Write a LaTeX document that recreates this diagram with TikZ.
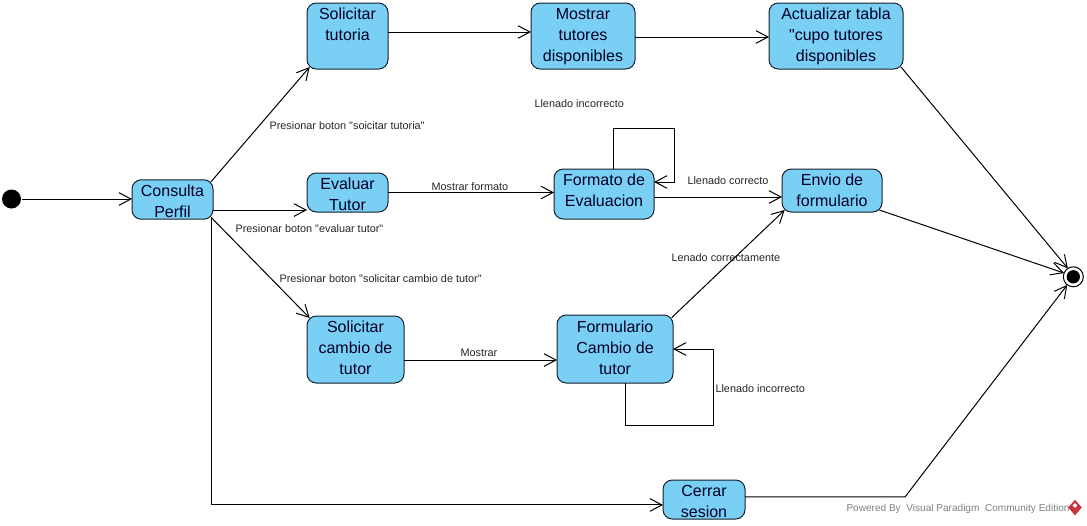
\documentclass[tikz,border=0pt]{standalone}
\usepackage{fontspec}
\setmainfont[Ligatures=TeXOff]{Liberation Sans}
\usetikzlibrary{arrows.meta,shapes.geometric}
\definecolor{statefill}{HTML}{7ACFF5}
\definecolor{stateline}{HTML}{14202C}
\definecolor{logored}{HTML}{C8323C}
\begin{document}
\begin{tikzpicture}
[x=0.75pt,y=-0.75pt,line width=0.75pt,%
  statebox/.style={shape=rectangle,rounded corners=7pt,draw=stateline,fill=statefill,inner sep=0pt,outer sep=0pt,
    align=center,font=\fontsize{12}{15.75}\selectfont,text=black!85!blue},
  twolines/.style={statebox,text height=28.15pt},
  threelines/.style={statebox,text height=43.9pt},
  edgelabel/.style={anchor=west,inner sep=0pt,font=\fontsize{8.15}{10}\selectfont,text=black!85},
  arr/.style={-{Straight Barb[length=9pt,width=9.5pt]}}]
\useasboundingbox (0,0) rectangle (1087,525);
\node[shape=circle,fill=black,inner sep=0pt,minimum size=14.25pt] (start) at (11.5,199) {};
\node[twolines,minimum width=60.75pt,text depth=1.45pt] (perfil) at (172.5,199.5) {Consulta\\Perfil};
\node[twolines,minimum width=60.75pt,text depth=21.35pt] (soltutoria) at (347.5,36) {Solicitar\\tutoria};
\node[threelines,minimum width=78pt,text depth=5.6pt] (mostrar) at (583,36) {Mostrar\\tutores\\disponibles};
\node[threelines,minimum width=100.5pt,text depth=5.6pt] (actualizar) at (836,36) {Actualizar tabla\\"cupo tutores\\disponibles};
\node[twolines,minimum width=60.75pt,text depth=1.1pt] (evaluar) at (347.5,192.5) {Evaluar\\Tutor};
\node[twolines,minimum width=75pt,text depth=9.35pt] (formato) at (604,194) {Formato de\\Evaluacion};
\node[twolines,minimum width=75pt,text depth=4.1pt] (envio) at (832,190.5) {Envio de\\formulario};
\node[threelines,minimum width=72.75pt,text depth=6.35pt] (solcambio) at (355.5,349.5) {Solicitar\\cambio de\\tutor};
\node[threelines,minimum width=87pt,text height=44.65pt,text depth=6.35pt] (formulario) at (615,349) {Formulario\\Cambio de\\tutor};
\node[twolines,minimum width=61.5pt,text depth=1.1pt] (cerrar) at (704,499.5) {Cerrar\\sesion};
\node[shape=circle,draw=black,fill=white,inner sep=0pt,outer sep=0pt,minimum size=15pt] (final) at (1073.3,276.8) {};
\node[shape=circle,fill=black,inner sep=0pt,minimum size=10pt] (finaldot) at (final.center) {};

\node[edgelabel] (lblsoltutoria) at (269,126) {Presionar boton "soicitar tutoria"};
\node[edgelabel] (lblevaluar) at (235,229) {Presionar boton "evaluar tutor"};
\node[edgelabel] (lblcambio) at (279,279) {Presionar boton "solicitar cambio de tutor"};
\node[edgelabel] (lblformato) at (431,187) {Mostrar formato};
\node[edgelabel] (lblincorrecto) at (534,104) {Llenado incorrecto};
\node[edgelabel] (lblcorrecto) at (687,181) {Llenado correcto};
\node[edgelabel] (lblcorrectamente) at (671,258) {Lenado correctamente};
\node[edgelabel] (lblmostrar) at (460,353) {Mostrar};
\node[edgelabel] (lblincorrectob) at (715,389) {Llenado incorrecto};
\node[edgelabel,font=\fontsize{7.55}{10}\selectfont,text=black!50] (powered) at (846,509) {Powered By\ \ Visual Paradigm\ \ Community Edition};
\node[shape=diamond,fill=logored,inner sep=0pt,minimum width=10.5pt,minimum height=12pt] (logo) at (1075,507.5) {};
\node[shape=diamond,fill=white,inner sep=0pt,minimum size=4pt] (logomark) at (1075,505.5) {};

\draw[arr] (start) -- (start -| perfil.west);
\draw[arr] ([xshift=-1.5pt,yshift=-1.5pt]perfil.north east) -- ([xshift=2pt,yshift=1.5pt]soltutoria.south west);
\draw[arr] ([yshift=3pt]soltutoria.east) -- ([yshift=3pt]mostrar.west);
\draw[arr] ([yshift=-0.75pt]mostrar.east) -- ([yshift=-0.75pt]actualizar.west);
\draw[arr] ([xshift=-1.5pt,yshift=1.5pt]actualizar.south east) -- (final.123);
\draw[arr] ([yshift=-7.9pt]perfil.east) -- ([yshift=-7.9pt]perfil.east -| evaluar.west);
\draw[arr] (evaluar.east) -- (evaluar.east -| formato.west);
\draw[arr] ([yshift=-2.25pt]formato.east) -- ([yshift=-2.25pt]formato.east -| envio.west);
\draw[arr] ([xshift=6.75pt]formato.north) -- ++(0,-41) -- ++(61,0) -- ++(0,54) -- ([yshift=9pt]formato.east);
\draw[arr] ([xshift=-2pt,yshift=1.5pt]envio.south east) -- (final.158);
\draw[arr] ([xshift=-1.5pt,yshift=1.5pt]perfil.south east) -- ([xshift=2pt,yshift=-1.5pt]solcambio.north west);
\draw[arr] ([yshift=-7.9pt]solcambio.east) -- ([yshift=-7.9pt]solcambio.east -| formulario.west);
\draw[arr] ([xshift=-1pt,yshift=-2pt]formulario.north east) -- ([xshift=2pt,yshift=1.5pt]envio.south west);
\draw[arr] ([xshift=7.9pt]formulario.south) -- ++(0,42) -- ++(87.5,0) -- ++(0,-76) -- (formulario.east);
\draw[arr] ([xshift=-1.5pt,yshift=1.5pt]perfil.south east) |- ([yshift=-4.1pt]cerrar.west);
\draw[arr] ([yshift=1.9pt]cerrar.east) -- ++(160,0) -- (final.233);
\end{tikzpicture}
\end{document}
